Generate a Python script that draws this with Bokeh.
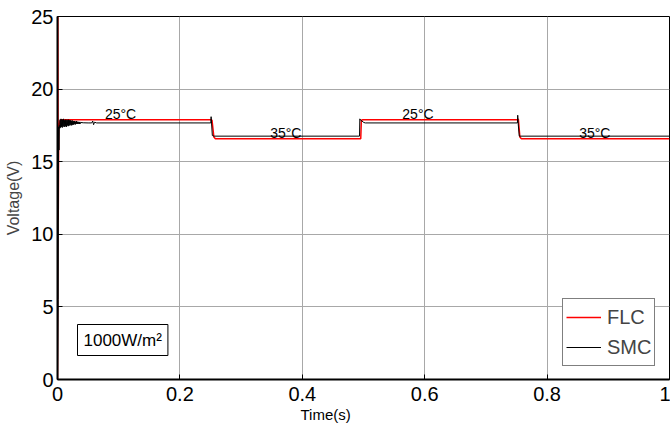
from bokeh.plotting import figure
from bokeh.models import FixedTicker, Label, Legend, LegendItem, Title
from bokeh.embed import file_html
from bokeh.resources import INLINE

# FLC (red) voltage response
flc_t = [0.0, 0.0006, 0.0012, 0.002, 0.004, 0.006, 0.251, 0.2525, 0.2555, 0.258,
         0.4955, 0.4965, 0.499, 0.7525, 0.753, 0.7555, 0.758, 1.0]
flc_v = [0.0, 25.0, 11.0, 17.2, 17.8, 17.89, 17.89, 17.85, 16.7, 16.58,
         16.58, 17.85, 17.89, 17.89, 17.95, 16.7, 16.58, 16.58]

# SMC (black) voltage response
smc_t = [0.0, 0.001, 0.0018, 0.0024, 0.003,
         0.0036, 0.0043, 0.005, 0.0057, 0.0064, 0.0071, 0.0078, 0.0085, 0.0092, 0.0099,
         0.0106, 0.0113, 0.012, 0.0127, 0.0134, 0.0141, 0.0148, 0.0155, 0.0162, 0.0169,
         0.0176, 0.0183, 0.019, 0.0197, 0.0204, 0.0211, 0.0218, 0.0225, 0.0232, 0.0239,
         0.0246, 0.0253, 0.026, 0.0267, 0.0274, 0.0281, 0.0288, 0.0295, 0.0302, 0.0309,
         0.0316, 0.0323, 0.033, 0.0337, 0.0344, 0.0351, 0.0358, 0.0365, 0.0372, 0.038,
         0.042, 0.05, 0.056, 0.0575, 0.059, 0.0605, 0.064,
         0.2505, 0.251, 0.2518, 0.253, 0.256,
         0.4935, 0.494, 0.4955, 0.4975, 0.5005, 0.503,
         0.7515, 0.752, 0.7528, 0.7545, 1.0]
smc_v = [0.0, 5.5, 17.4, 15.8, 17.5,
         17.3, 17.9, 17.35, 17.95, 17.4, 17.9, 17.35, 17.9, 17.45, 17.95,
         17.4, 17.85, 17.4, 17.9, 17.45, 17.85, 17.4, 17.9, 17.5, 17.85,
         17.45, 17.9, 17.5, 17.85, 17.5, 17.85, 17.55, 17.8, 17.5, 17.85,
         17.55, 17.8, 17.55, 17.8, 17.6, 17.8, 17.55, 17.75, 17.6, 17.8,
         17.6, 17.75, 17.6, 17.75, 17.62, 17.72, 17.6, 17.74, 17.62, 17.7,
         17.68, 17.67, 17.67, 17.8, 17.55, 17.72, 17.67,
         17.67, 18.1, 17.6, 16.8, 16.76,
         16.76, 17.95, 17.85, 17.8, 17.7, 17.67,
         17.67, 18.2, 17.6, 16.76, 16.76]

x_ticks = [0, 0.2, 0.4, 0.6, 0.8, 1.0]
x_tick_labels = ["0", "0.2", "0.4", "0.6", "0.8", "1"]
y_ticks = [0, 5, 10, 15, 20, 25]

temp_labels = ["25\u00b0C", "35\u00b0C", "25\u00b0C", "35\u00b0C"]
temp_t = [0.103, 0.373, 0.589, 0.878]
temp_v = [18.3, 17.0, 18.3, 17.0]

FONT = "Liberation Sans"

p = figure(width=670, height=430, output_backend="svg", toolbar_location=None,
           x_range=(0, 1), y_range=(0, 25),
           min_border_left=57, min_border_right=1, min_border_top=16, min_border_bottom=51)
p.background_fill_color = "white"
p.border_fill_color = "white"
p.outline_line_color = "black"
p.outline_line_width = 1

for ax in (p.xaxis[0], p.yaxis[0]):
    ax.major_label_text_font = FONT
    ax.major_label_text_font_size = "20px"
    ax.major_label_text_color = "black"
    ax.axis_label_text_font = FONT
    ax.axis_label_text_font_style = "normal"
    ax.axis_label_text_font_size = "16px"
    ax.axis_line_color = "black"
    ax.axis_line_width = 2
    ax.major_tick_in = 5
    ax.major_tick_out = 0
    ax.minor_tick_line_color = None
    ax.major_tick_line_color = "black"

p.xaxis.ticker = FixedTicker(ticks=x_ticks)
p.xaxis.major_label_overrides = {t: l for t, l in zip(x_ticks, x_tick_labels)}
p.xaxis.major_label_standoff = 7
p.yaxis.ticker = FixedTicker(ticks=y_ticks)
p.yaxis.axis_label = "Voltage(V)"
p.yaxis.major_label_standoff = 4
p.yaxis.axis_label_standoff = 6

# x-axis title, placed off-centre as in the reference
p.add_layout(Title(text="Time(s)", align="left", offset=243, standoff=0,
                   text_font=FONT, text_font_size="15px", text_font_style="normal",
                   text_color="black", text_line_height=1.0), "below")

p.xgrid.grid_line_color = "#a8a8a8"
p.ygrid.grid_line_color = "#a8a8a8"
p.xgrid.grid_line_width = 1
p.ygrid.grid_line_width = 1

r_flc = p.line(flc_t, flc_v, line_color="red", line_width=1.5)
r_smc = p.line(smc_t, smc_v, line_color="black", line_width=1)

for lab, tt, vv in zip(temp_labels, temp_t, temp_v):
    p.add_layout(Label(x=tt, y=vv, text=lab, text_font=FONT, text_font_size="14px",
                       text_align="center", text_baseline="alphabetic", text_color="black"))

p.add_layout(Label(x=20, y=24, x_units="screen", y_units="screen", text="1000W/m\u00b2",
                   text_font=FONT, text_font_size="17px", text_color="black",
                   border_line_color="black", border_line_width=1,
                   background_fill_color="white", padding=6))

legend = Legend(items=[LegendItem(label="FLC", renderers=[r_flc]),
                       LegendItem(label="SMC", renderers=[r_smc])],
                location=(505, 13))
legend.label_text_font = FONT
legend.label_text_font_size = "20px"
legend.glyph_width = 35
legend.glyph_height = 30
legend.label_height = 30
legend.label_standoff = 6
legend.spacing = 0
legend.padding = 3
legend.margin = 0
legend.border_line_color = "black"
legend.border_line_width = 1
legend.background_fill_alpha = 1
p.add_layout(legend)

open("out.html", "w").write(file_html(p, INLINE))
